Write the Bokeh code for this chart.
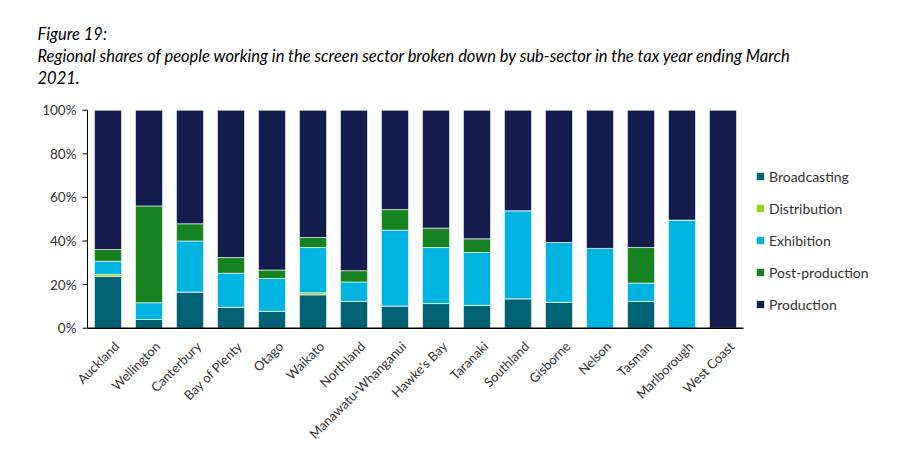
from bokeh.plotting import figure
from bokeh.models import (ColumnDataSource, Range1d, Legend, LegendItem, Title)
from bokeh.embed import file_html
from bokeh.resources import INLINE
import math

regions = ["Auckland", "Wellington", "Canterbury", "Bay of Plenty", "Otago", "Waikato",
           "Northland", "Manawatu-Whanganui", "Hawke's Bay", "Taranaki", "Southland",
           "Gisborne", "Nelson", "Tasman", "Marlborough", "West Coast"]
broadcasting = [23.7, 4.0, 16.6, 9.6, 7.7, 15.3, 12.3, 10.2, 11.3, 10.5, 13.5, 11.9, 0.0, 12.3, 0.0, 0.0]
distribution = [1.0, 0.0, 0.0, 0.0, 0.0, 1.0, 0.0, 0.0, 0.0, 0.0, 0.0, 0.0, 0.0, 0.0, 0.0, 0.0]
exhibition = [6.0, 7.7, 23.4, 15.6, 15.1, 20.7, 8.9, 34.8, 25.7, 24.2, 40.4, 27.4, 36.6, 8.4, 49.6, 0.0]
post_production = [5.4, 44.4, 7.9, 7.2, 3.9, 4.6, 5.2, 9.4, 8.9, 6.3, 0.0, 0.0, 0.0, 16.3, 0.0, 0.0]
production = [63.9, 43.9, 52.1, 67.6, 73.3, 58.4, 73.6, 45.6, 54.1, 59.0, 46.1, 60.7, 63.4, 63.0, 50.4, 100.0]

series = ["Broadcasting", "Distribution", "Exhibition", "Post-production", "Production"]
colors = ["#006272", "#9BD21E", "#00B4E1", "#178220", "#121D4E"]
yticks = [0, 20, 40, 60, 80, 100]
ytick_labels = ["0%", "20%", "40%", "60%", "80%", "100%"]
title_text = ("Figure 19:\n"
              "Regional shares of people working in the screen sector broken down by sub-sector in the tax year ending March\n"
              "2021.")

FONT = "Lato"
TXT = "#333333"

W, H = 888, 442
LEFT, RIGHT = 30, 5     # frame borders (frame is wide so rotated labels are not clipped)
AXIS_PX = 87            # canvas x where the value axis sits
TOP = 90                # expected frame top (title panel height)
HEADROOM = 9            # pixels above the 100% line inside the frame
PX_PER_PCT = 2.25       # vertical pixels per percentage point
CAT_PX = 41.0           # pixel width of one category slot
TICK_PX = 5
frame_w = W - LEFT - RIGHT
frame_h = H - TOP
y_end = 100 + HEADROOM / PX_PER_PCT
y_start = y_end - frame_h / PX_PER_PCT
x_start = -0.5 - (AXIS_PX - LEFT) / CAT_PX
n = len(regions)
xs = list(range(n))
x_axis = -0.5
x_tick = x_axis - TICK_PX / CAT_PX

source = ColumnDataSource(dict(x=xs, Broadcasting=broadcasting,
                               Distribution=distribution, Exhibition=exhibition,
                               **{"Post-production": post_production}, Production=production))
label_src = ColumnDataSource(dict(x=xs, y=[0] * n, text=regions))
ytick_src = ColumnDataSource(dict(x0=[x_tick] * len(yticks), x1=[x_axis] * len(yticks),
                                  y=yticks, text=ytick_labels))

p = figure(x_range=Range1d(x_start, x_start + frame_w / CAT_PX), y_range=Range1d(y_start, y_end),
           width=W, height=H, output_backend="svg", toolbar_location=None,
           min_border_left=LEFT, min_border_right=RIGHT, min_border_bottom=0, min_border_top=0)

rends = p.vbar_stack(series, x="x", width=0.66, source=source, color=colors,
                     line_color="white", line_width=0.6)

# category axis: baseline + rotated labels
p.segment(x0=[x_axis], y0=[yticks[0]], x1=[n - 0.5], y1=[yticks[0]], line_color="black", line_width=1.5)
p.text(x="x", y="y", text="text", source=label_src, angle=math.pi / 4,
       text_align="right", text_baseline="top", x_offset=3, y_offset=10,
       text_font={"value": FONT}, text_font_size="13px", text_color=TXT)

# value axis: line, outward ticks, percentage labels
p.segment(x0=[x_axis], y0=[yticks[0]], x1=[x_axis], y1=[yticks[-1]], line_color="black", line_width=1)
p.segment(x0="x0", y0="y", x1="x1", y1="y", source=ytick_src, line_color="black", line_width=1)
p.text(x="x0", y="y", text="text", source=ytick_src, text_align="right", text_baseline="middle",
       x_offset=-6, text_font={"value": FONT}, text_font_size="13.5px", text_color=TXT)

p.outline_line_color = None
p.xgrid.grid_line_color = None
p.ygrid.grid_line_color = None
p.background_fill_color = "white"
p.border_fill_color = "white"
p.xaxis.visible = False
p.yaxis.visible = False

legend = Legend(items=[LegendItem(label=s, renderers=[r]) for s, r in zip(series, rends)],
                location=(755 - LEFT, int((0 - y_start) * PX_PER_PCT) + 10),
                glyph_width=10, glyph_height=10, label_height=20,
                spacing=12, padding=0, margin=0, label_standoff=4,
                label_text_font=FONT, label_text_font_size="14px", label_text_color=TXT,
                border_line_color=None, background_fill_alpha=0)
p.add_layout(legend, "center")

p.add_layout(Title(text=title_text, text_font=FONT, text_font_style="italic",
                   text_font_size="16.5px", text_line_height=1.1, text_color="black",
                   align="left", offset=7, standoff=28), "above")
p.add_layout(Title(text="\u00a0", text_font=FONT, text_font_size="4.5px", standoff=0), "above")

open("out.html", "w").write(file_html(p, INLINE))
